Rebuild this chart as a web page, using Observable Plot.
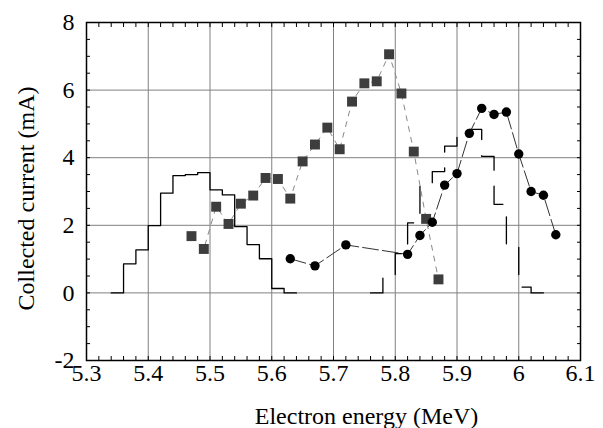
<!DOCTYPE html>
<html><head><meta charset="utf-8">
<script src="https://cdn.jsdelivr.net/npm/d3@7"></script>
<script src="https://cdn.jsdelivr.net/npm/@observablehq/plot@0.6"></script>
<style>body{margin:0;background:#fff}</style>
</head><body><div id="chart"></div>
<script>
// Square series (grey dashed)
const squareEnergy = [5.47,5.49,5.51,5.53,5.55,5.57,5.59,5.61,5.63,5.65,5.67,5.69,5.71,5.73,5.75,5.77,5.79,5.81,5.83,5.85,5.87];
const squareCurrent = [1.68,1.30,2.55,2.04,2.64,2.88,3.40,3.37,2.79,3.89,4.39,4.89,4.25,5.66,6.20,6.26,7.06,5.90,4.18,2.19,0.40];
// Circle series (black)
const circleEnergy = [5.63,5.67,5.72,5.82,5.84,5.86,5.88,5.90,5.92,5.94,5.96,5.98,6.00,6.02,6.04,6.06];
const circleCurrent = [1.01,0.80,1.42,1.14,1.70,2.09,3.19,3.53,4.72,5.46,5.28,5.35,4.11,3.00,2.89,1.72];
// Solid step histogram: bin edges and bin values
const histAEdges = [5.34,5.36,5.38,5.40,5.42,5.44,5.46,5.48,5.50,5.52,5.54,5.56,5.58,5.60,5.62,5.64];
const histAValues = [0,0.86,1.27,1.99,2.95,3.47,3.50,3.56,3.05,2.90,1.96,1.43,1.01,0.13,0];
// Dashed step histogram
const histBEdges = [5.76,5.78,5.80,5.82,5.84,5.86,5.88,5.90,5.92,5.94,5.96,5.98,6.00,6.02,6.04];
const histBValues = [0,0.45,1.16,2.07,3.25,3.59,4.34,4.72,4.84,4.04,2.62,1.42,0.17,0];
// Axes
const xTicks = [5.3,5.4,5.5,5.6,5.7,5.8,5.9,6.0,6.1];
const xTickLabels = ["5.3","5.4","5.5","5.6","5.7","5.8","5.9","6","6.1"];
const yTicks = [-2,0,2,4,6,8];
const yTickLabels = ["-2","0","2","4","6","8"];
const xGrid = [5.4,5.5,5.6,5.7,5.8,5.9,6.0];
const yGrid = [0,2,4,6];
const xMinor = d3.range(0,41).map(i => +(5.3 + i*0.02).toFixed(2));
const yMinor = d3.range(0,21).map(i => -2 + i*0.5);
const xTitle = "Electron energy (MeV)";
const yTitle = "Collected current (mA)";

const squares = squareEnergy.map((x,i)=>({x, y: squareCurrent[i]}));
const circles = circleEnergy.map((x,i)=>({x, y: circleCurrent[i]}));
const stepPoints = (edges, vals) => edges.map((x,i)=>({x, y: vals[Math.min(i, vals.length-1)]}));
const histA = stepPoints(histAEdges, histAValues);
const histB = stepPoints(histBEdges, histBValues);

const font = "'Liberation Serif', 'DejaVu Serif', serif";
const noText = () => "";
const chart = Plot.plot({
  width: 603, height: 428,
  marginLeft: 86, marginRight: 23, marginTop: 22, marginBottom: 68,
  x: {domain: [5.3, 6.1]},
  y: {domain: [-2, 8]},
  style: {fontFamily: font, fontSize: "24px", color: "black", background: "white"},
  marks: [
    Plot.gridX(xGrid, {stroke: "#808080", strokeOpacity: 1, strokeWidth: 1}),
    Plot.gridY(yGrid, {stroke: "#808080", strokeOpacity: 1, strokeWidth: 1}),
    Plot.axisX(xMinor, {anchor: "bottom", tickSize: -4, tickFormat: noText, label: null}),
    Plot.axisX(xMinor, {anchor: "top", tickSize: -4, tickFormat: noText, label: null}),
    Plot.axisY(yMinor, {anchor: "left", tickSize: -4, tickFormat: noText, label: null}),
    Plot.axisY(yMinor, {anchor: "right", tickSize: -4, tickFormat: noText, label: null}),
    Plot.text(xTicks, {x: d => d, text: (d,i) => xTickLabels[i], frameAnchor: "bottom", textAnchor: "middle", lineAnchor: "top", dy: 3, fontSize: 24, fontFamily: font}),
    Plot.text(yTicks, {y: d => d, text: (d,i) => yTickLabels[i], frameAnchor: "left", textAnchor: "end", lineAnchor: "middle", dx: -12, fontSize: 24, fontFamily: font}),
    Plot.text([xTitle], {text: d => d, frameAnchor: "bottom", textAnchor: "middle", lineAnchor: "middle", dx: 33, dy: 56, fontSize: 24, fontFamily: font}),
    Plot.text([yTitle], {text: d => d, frameAnchor: "left", textAnchor: "middle", lineAnchor: "middle", rotate: -90, dx: -60, dy: 7, fontSize: 24, fontFamily: font}),
    Plot.line(histA, {x: "x", y: "y", curve: "step-after", stroke: "black", strokeWidth: 1.3}),
    Plot.line(histB, {x: "x", y: "y", curve: "step-after", stroke: "black", strokeWidth: 1.3, strokeDasharray: "27,16"}),
    Plot.line(squares, {x: "x", y: "y", stroke: "#888", strokeWidth: 1, strokeDasharray: "5,6"}),
    Plot.line(circles, {x: "x", y: "y", stroke: "#333", strokeWidth: 1, strokeDasharray: "16,4"}),
    Plot.dot(squares, {x: "x", y: "y", symbol: "square", r: 5.6, fill: "#3d3d3d", stroke: "none"}),
    Plot.dot(circles, {x: "x", y: "y", r: 4.7, fill: "black", stroke: "none"}),
    Plot.frame({stroke: "black", strokeWidth: 1.5})
  ]
});
document.getElementById("chart").appendChild(chart);
</script>
</body></html>
